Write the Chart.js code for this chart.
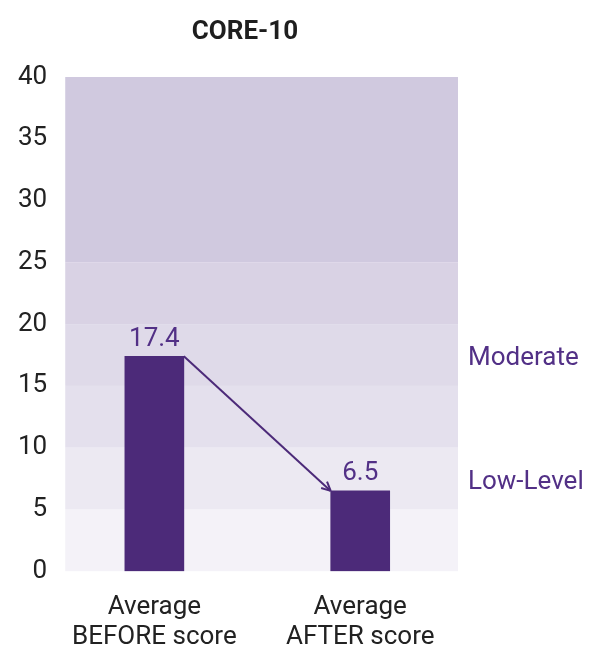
<!DOCTYPE html>
<html>
<head>
<meta charset="utf-8">
<title>CORE-10</title>
<script src="https://cdn.jsdelivr.net/npm/chart.js@4.4.1/dist/chart.umd.min.js"></script>
<style>
  html, body { margin: 0; padding: 0; background: #fff; }
  #wrap { width: 591px; height: 646px; position: relative; }
</style>
</head>
<body>
<div id="wrap"><canvas id="coreChart"></canvas></div>
<script>
// data
const chartTitle = "CORE-10";
const categories = [["Average", "BEFORE score"], ["Average", "AFTER score"]];
const scores = [17.4, 6.5];
const yTicks = [0, 5, 10, 15, 20, 25, 30, 35, 40];
const bandEdges = [0, 5, 10, 15, 20, 25, 40];
const severityLabels = ["Moderate", "Low-Level"];
const severityLevels = [17.5, 7.5];

// styling
const purple = "#4c2a79";
const textPurple = "#523086";
const bandColors = ["#f4f2f8", "#ece9f2", "#e4e0ed", "#dfdae9", "#d9d2e4", "#d0c9df"];
const fontFamily = "Roboto, 'DejaVu Sans', sans-serif";

// background bands drawn behind the bars
const bandsPlugin = {
    id: "bands",
    beforeDatasetsDraw(chart) {
        const ctx = chart.ctx, area = chart.chartArea, y = chart.scales.y;
        ctx.save();
        for (let i = 0; i < bandEdges.length - 1; i++) {
            const top = y.getPixelForValue(bandEdges[i + 1]);
            const bottom = y.getPixelForValue(bandEdges[i]);
            ctx.fillStyle = bandColors[i];
            ctx.fillRect(area.left, top, area.right - area.left, bottom - top);
        }
        ctx.restore();
    }
};

// title, value labels, arrow and severity labels
const extrasPlugin = {
    id: "extras",
    afterDatasetsDraw(chart) {
        const ctx = chart.ctx, area = chart.chartArea, y = chart.scales.y;
        const bars = chart.getDatasetMeta(0).data;
        ctx.save();
        ctx.textBaseline = "middle";
        ctx.textAlign = "center";
        ctx.fillStyle = "#1e1e1e";
        ctx.font = "bold 26px " + fontFamily;
        ctx.fillText(chartTitle, 245, 32);

        ctx.font = "26px " + fontFamily;
        ctx.fillStyle = textPurple;
        bars.forEach((b, i) => {
            ctx.fillText(scores[i].toString(), b.x, b.y - 17);
        });

        // arrow from first bar to second bar
        const b0 = bars[0], b1 = bars[1];
        const x0 = b0.x + b0.width / 2, y0 = b0.y;
        const x1 = b1.x - b1.width / 2, y1 = b1.y;
        ctx.strokeStyle = purple;
        ctx.lineWidth = 2;
        ctx.beginPath();
        ctx.moveTo(x0, y0);
        ctx.lineTo(x1, y1);
        ctx.stroke();
        const ang = Math.atan2(y1 - y0, x1 - x0);
        const head = 10;
        ctx.beginPath();
        ctx.moveTo(x1, y1);
        ctx.lineTo(x1 - head * Math.cos(ang - 0.45), y1 - head * Math.sin(ang - 0.45));
        ctx.moveTo(x1, y1);
        ctx.lineTo(x1 - head * Math.cos(ang + 0.45), y1 - head * Math.sin(ang + 0.45));
        ctx.stroke();

        ctx.textAlign = "left";
        severityLabels.forEach((lab, i) => {
            ctx.fillText(lab, area.right + 10, y.getPixelForValue(severityLevels[i]) + 4);
        });
        ctx.restore();
    }
};

new Chart(document.getElementById("coreChart"), {
    type: "bar",
    data: {
        datasets: [{
            data: scores.map((v, i) => ({ x: i, y: v })),
            backgroundColor: purple,
            barThickness: 59
        }]
    },
    options: {
        responsive: true,
        maintainAspectRatio: false,
        animation: false,
        layout: { padding: { left: 0, right: 133, top: 77, bottom: -27 } },
        plugins: {
            legend: { display: false },
            tooltip: { enabled: false },
            title: { display: false }
        },
        scales: {
            x: {
                type: "linear",
                offset: false,
                min: -0.433,
                max: 1.475,
                grid: { display: false, drawTicks: false },
                border: { display: false },
                afterBuildTicks(scale) {
                    scale.ticks = categories.map((c, i) => ({ value: i }));
                },
                ticks: {
                    autoSkip: false,
                    maxRotation: 0,
                    padding: 21,
                    color: "#222",
                    font: { family: fontFamily, size: 26, lineHeight: 1.15 },
                    callback: (v) => categories[v]
                }
            },
            y: {
                min: 0,
                max: 40,
                grid: { display: false, drawTicks: false },
                border: { display: false },
                afterBuildTicks(scale) {
                    scale.ticks = yTicks.map(v => ({ value: v }));
                },
                ticks: {
                    padding: 18,
                    color: "#222",
                    font: { family: fontFamily, size: 26 }
                }
            }
        }
    },
    plugins: [bandsPlugin, extrasPlugin]
});
</script>
</body>
</html>
